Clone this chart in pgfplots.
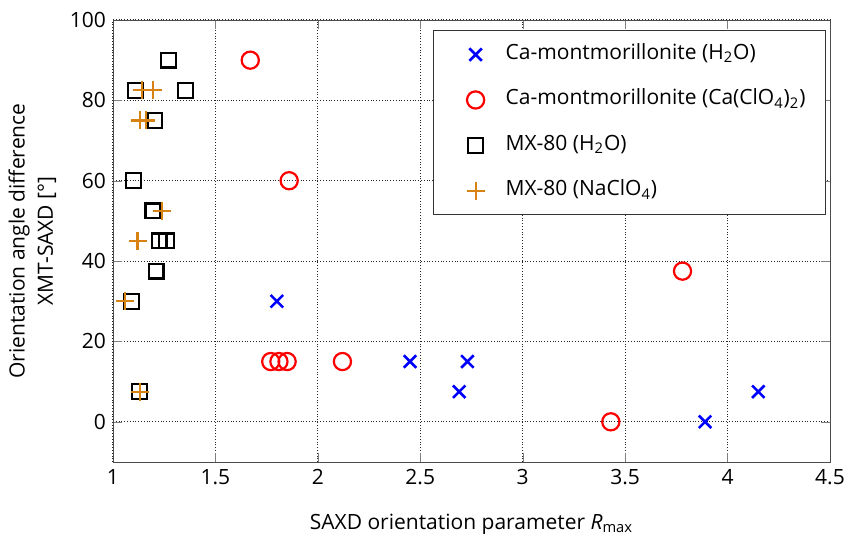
\documentclass[border=0pt]{standalone}
\usepackage{pgfplots}
\pgfplotsset{compat=1.18}
\usepackage{fontspec}
\setmainfont{Open Sans}
\definecolor{myorange}{RGB}{217,130,20}
\begin{document}
\begin{tikzpicture}
\begin{axis}[
  scale only axis,
  width=358.5pt, height=221pt,
  xmin=1, xmax=4.5, ymin=-10, ymax=100,
  xtick={1,1.5,2,2.5,3,3.5,4,4.5},
  ytick={0,20,40,60,80,100},
  /pgf/number format/assume math mode=true,
  tick label style={font=\fontsize{10.5}{12.5}\selectfont},
  label style={font=\fontsize{10.5}{12.5}\selectfont},
  xlabel style={yshift=-8pt},
  tick align=inside,
  tick pos=both,
  axis line style={draw=black!70},
  grid=major,
  major grid style={densely dotted, black!85, line width=0.5pt},
  xlabel={SAXD orientation parameter \textit{R}\textsubscript{max}},
  ylabel={\shortstack{Orientation angle difference\\[1pt]XMT-SAXD [°]}},
  legend cell align=left,
  legend style={at={(0.9944,0.977)}, anchor=north east, draw=black!80,
    font=\fontsize{10.5}{12.5}\selectfont, row sep=7.7pt, inner xsep=8pt, inner ysep=4.5pt,
    nodes={text height=8pt, text depth=3pt}},
  legend image code/.code={\path[draw=none,fill=none] (0pt,0pt) -- (26pt,0pt); \draw[#1] plot coordinates {(13pt,0pt)};},
]
\addplot[only marks, blue, mark=x, mark size=4.4pt, line width=1.3pt] coordinates {
(1.80,30) (2.45,15) (2.73,15) (2.69,7.5) (3.89,0) (4.15,7.5)};
\addlegendentry{Ca-montmorillonite (H\textsubscript{2}O)}
\addplot[only marks, red, mark=o, mark size=4.3pt, line width=1.1pt] coordinates {
(1.67,90) (1.86,60) (1.77,15) (1.81,15) (1.85,15) (2.12,15) (3.43,0) (3.78,37.5)};
\addlegendentry{Ca-montmorillonite (Ca(ClO\textsubscript{4})\textsubscript{2})}
\addplot[only marks, black, mark=square, mark size=3.7pt, line width=1.1pt] coordinates {
(1.27,90) (1.11,82.5) (1.355,82.5) (1.205,75) (1.10,60) (1.195,52.5) (1.225,45) (1.26,45) (1.21,37.5) (1.09,30) (1.13,7.5)};
\addlegendentry{MX-80 (H\textsubscript{2}O)}
\addplot[only marks, myorange, mark=+, mark size=4.5pt, line width=1.1pt] coordinates {
(1.14,82.5) (1.195,82.5) (1.13,75) (1.16,75) (1.24,52.5) (1.12,45) (1.06,30) (1.13,7.5)};
\addlegendentry{MX-80 (NaClO\textsubscript{4})}
\end{axis}
\pgfresetboundingbox
\path[use as bounding box] ([xshift=-56.5pt,yshift=-36pt]current axis.south west) rectangle ([xshift=8pt,yshift=10pt]current axis.north east);
\end{tikzpicture}
\end{document}
